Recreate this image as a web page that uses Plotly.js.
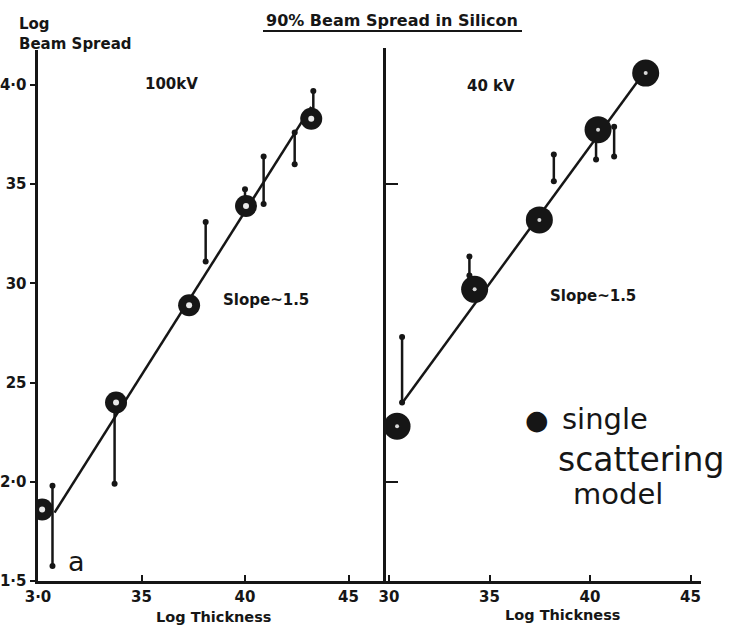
<!DOCTYPE html>
<html>
<head>
<meta charset="utf-8">
<script src="https://cdn.plot.ly/plotly-3.0.1.min.js"></script>
<style>html,body{margin:0;padding:0;background:#fff;}#chart{width:734px;height:627px;}</style>
</head>
<body>
<div id="chart"></div>
<script>
// ---- data ----
// 100 kV panel
const leftCircX = [3.02, 3.377, 3.73, 4.005, 4.32];
const leftCircY = [1.86, 2.40, 2.89, 3.39, 3.83];
const leftErrX  = [3.07, 3.37, 3.81, 4.00, 4.09, 4.24, 4.33];
const leftErrLo = [1.575, 1.99, 3.11, 3.39, 3.40, 3.60, 3.83];
const leftErrHi = [1.98, 2.40, 3.31, 3.475, 3.64, 3.76, 3.97];
const leftFitX  = [3.08, 4.32];
const leftFitY  = [1.845, 3.89];
// 40 kV panel
const rightCircX = [3.04, 3.426, 3.748, 4.04, 4.277];
const rightCircY = [2.28, 2.97, 3.32, 3.775, 4.06];
const rightErrX  = [3.065, 3.40, 3.82, 4.03, 4.12];
const rightErrLo = [2.40, 3.04, 3.515, 3.625, 3.64];
const rightErrHi = [2.73, 3.135, 3.65, 3.775, 3.79];
const rightFitX  = [3.06, 4.26];
const rightFitY  = [2.39, 4.05];
// ticks
const xTickVals = [3.0, 3.5, 4.0, 4.5];
const leftXTickText  = ["3·0", "35", "40", "45"];
const rightXTickText = ["30", "35", "40", "45"];
const yTickVals = [1.5, 2.0, 2.5, 3.0, 3.5, 4.0];
const yTickText = ["1·5", "2·0", "25", "30", "35", "4·0"];
const rightYTickVals = [2.0, 3.5];

function bars(xs, lo, hi) {
  const x = [], y = [];
  xs.forEach((v, i) => { x.push(v, v, null); y.push(lo[i], hi[i], null); });
  return {x, y};
}
const ink = '#161616';
const lb = bars(leftErrX, leftErrLo, leftErrHi);
const rb = bars(rightErrX, rightErrLo, rightErrHi);

const traces = [
  {x: lb.x, y: lb.y, xaxis: 'x', yaxis: 'y', mode: 'lines+markers', line: {color: ink, width: 2.5},
   marker: {color: ink, size: 6}, connectgaps: false},
  {x: leftFitX, y: leftFitY, xaxis: 'x', yaxis: 'y', mode: 'lines', line: {color: ink, width: 2.5}},
  {x: leftCircX, y: leftCircY, xaxis: 'x', yaxis: 'y', mode: 'markers',
   marker: {symbol: 'circle', color: ink, size: 22}},
  {x: leftCircX, y: leftCircY, xaxis: 'x', yaxis: 'y', mode: 'markers',
   marker: {symbol: 'circle', color: '#e8e8e8', size: 6}},
  {x: rb.x, y: rb.y, xaxis: 'x2', yaxis: 'y2', mode: 'lines+markers', line: {color: ink, width: 2.5},
   marker: {color: ink, size: 6}, connectgaps: false},
  {x: rightFitX, y: rightFitY, xaxis: 'x2', yaxis: 'y2', mode: 'lines', line: {color: ink, width: 2.5}},
  {x: rightCircX, y: rightCircY, xaxis: 'x2', yaxis: 'y2', mode: 'markers',
   marker: {symbol: 'circle', color: ink, size: 27}},
  {x: rightCircX, y: rightCircY, xaxis: 'x2', yaxis: 'y2', mode: 'markers',
   marker: {symbol: 'circle', color: '#d8d8d8', size: 4}}
];

const W = 734, H = 627;
const px = v => v / W, py = v => 1 - v / H;
const fam = 'DejaVu Sans, sans-serif';
const bold = s => ({family: fam, size: s, color: ink, weight: 'bold'});
const yBot = 581, yTop = 50, pxPerUnitY = 198.4;

const baseX = {
  showgrid: false, zeroline: false, showline: true, linecolor: ink, linewidth: 2.5,
  ticks: 'inside', ticklen: 6, tickwidth: 2, tickcolor: ink,
  tickmode: 'array', tickvals: xTickVals, tickfont: bold(15)
};

function ann(x, y, text, font, xanchor, extra) {
  return Object.assign({xref: 'paper', yref: 'paper', x: px(x), y: py(y), xanchor: xanchor || 'center',
    yanchor: 'middle', showarrow: false, text: text, font: font}, extra || {});
}

const layout = {
  width: W, height: H, margin: {l: 0, r: 0, t: 0, b: 0},
  paper_bgcolor: '#fff', plot_bgcolor: 'rgba(0,0,0,0)', showlegend: false,
  xaxis: Object.assign({}, baseX, {domain: [px(38), px(386)], range: [3.0, 3.0 + 348 / 207],
    anchor: 'y', ticktext: leftXTickText}),
  xaxis2: Object.assign({}, baseX, {domain: [px(386), px(701)], range: [2.985, 2.985 + 315 / 201],
    anchor: 'y2', ticktext: rightXTickText}),
  yaxis: {domain: [1 - yBot / H, 1 - yTop / H], range: [1.5, 1.5 + (yBot - yTop) / pxPerUnitY], anchor: 'x',
    showgrid: false, zeroline: false, showline: true, linecolor: ink, linewidth: 3.5,
    ticks: 'outside', ticklen: 5, tickwidth: 2, tickcolor: ink,
    tickmode: 'array', tickvals: yTickVals, ticktext: yTickText, tickfont: bold(15)},
  yaxis2: {domain: [1 - yBot / H, 1 - (yTop - 2) / H], range: [1.5, 1.5 + (yBot - yTop + 2) / pxPerUnitY], anchor: 'x2',
    showgrid: false, zeroline: false, showline: true, linecolor: ink, linewidth: 3,
    ticks: 'inside', ticklen: 12, tickwidth: 2, tickcolor: ink,
    tickmode: 'array', tickvals: rightYTickVals, showticklabels: false},
  annotations: [
    ann(17, 13, 'Log<br>Beam Spread', bold(15), 'left', {yanchor: 'top', align: 'left'}),
    ann(392, 21, '90% Beam Spread in Silicon', bold(16)),
    ann(171, 84, '100kV', bold(15)),
    ann(491, 86, '40 kV', bold(15)),
    ann(266, 300, 'Slope~1.5', bold(15)),
    ann(593, 296, 'Slope~1.5', bold(15)),
    ann(213, 617, 'Log Thickness', bold(14.5)),
    ann(562, 615, 'Log Thickness', bold(14.5)),
    ann(76, 561, 'a', {family: fam, size: 27, color: ink}),
    ann(537, 419, '●', {family: fam, size: 27, color: ink}),
    ann(560, 419, 'single', {family: fam, size: 29, color: ink}, 'left'),
    ann(556, 459, 'scattering', {family: fam, size: 33, color: ink}, 'left'),
    ann(571, 494, 'model', {family: fam, size: 29, color: ink}, 'left')
  ],
  shapes: [
    {type: 'line', xref: 'paper', yref: 'paper', x0: px(263), x1: px(522), y0: py(31), y1: py(31),
     line: {color: ink, width: 1.8}}
  ]
};

Plotly.newPlot('chart', traces, layout, {staticPlot: true, displayModeBar: false});
</script>
</body>
</html>
